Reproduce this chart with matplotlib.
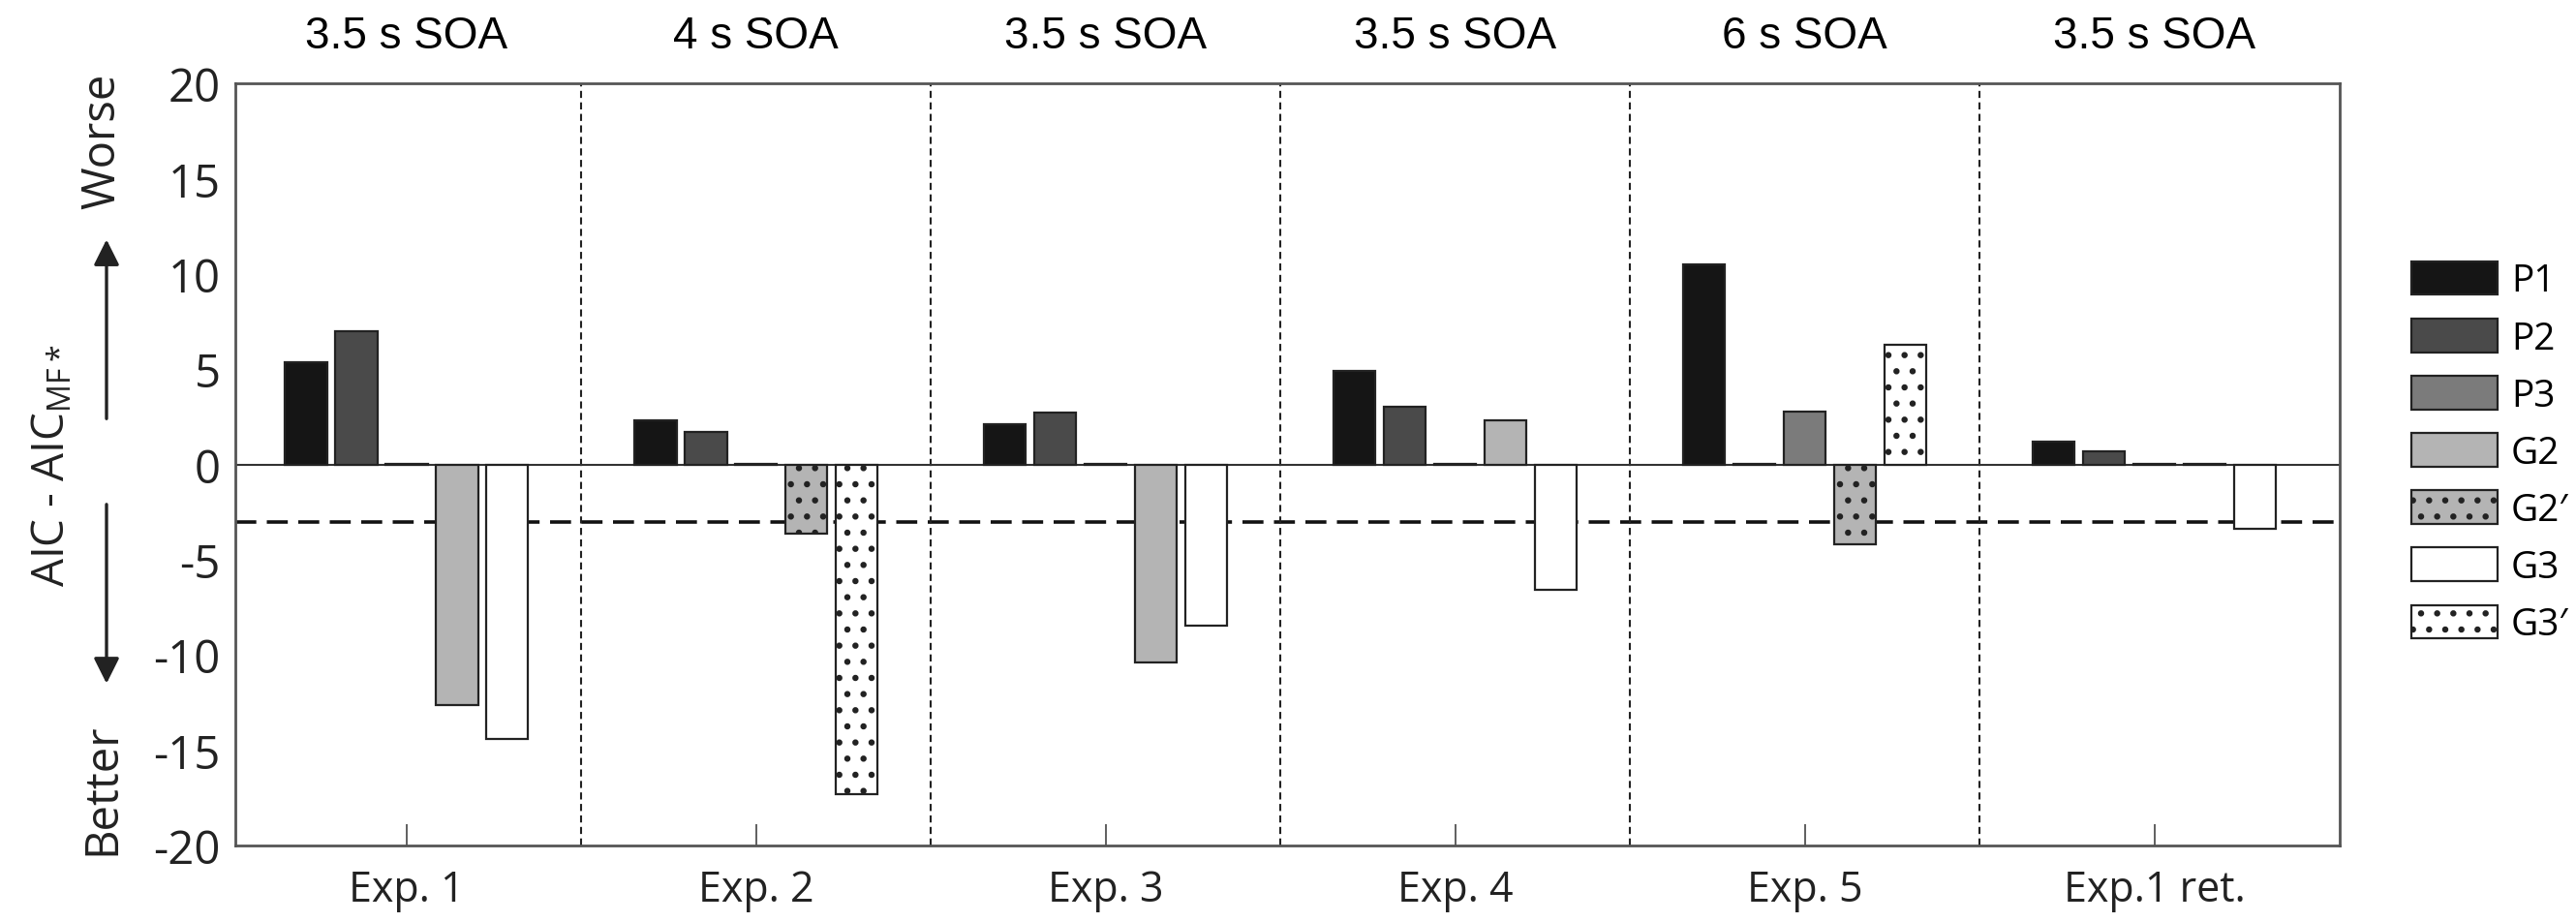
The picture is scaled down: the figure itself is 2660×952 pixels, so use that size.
import numpy as np
import matplotlib.pyplot as plt
from matplotlib import transforms
from matplotlib.patches import Patch

plt.rcParams['font.family'] = ['Open Sans', 'DejaVu Sans']
plt.rcParams['mathtext.fontset'] = 'custom'
plt.rcParams['mathtext.rm'] = 'Open Sans'
plt.rcParams['hatch.linewidth'] = 2.2
plt.rcParams['hatch.color'] = '#1a1a1a'

# experiments and their SOA
exps = ['Exp. 1', 'Exp. 2', 'Exp. 3', 'Exp. 4', 'Exp. 5', 'Exp.1 ret.']
soa = ['3.5 s SOA', '4 s SOA', '3.5 s SOA', '3.5 s SOA', '6 s SOA', '3.5 s SOA']

# AIC - AIC_MF* per model (nan = model not fitted for that experiment)
nan = np.nan
p1 = [5.38, 2.31, 2.13, 4.9, 10.5, 1.2]
p2 = [7.0, 1.72, 2.72, 3.03, 0.05, 0.68]
p3 = [0.05, 0.05, 0.05, 0.05, 2.76, 0.05]
g2 = [-12.65, nan, -10.4, 2.32, nan, 0.05]
g2p = [nan, -3.63, nan, nan, -4.18, nan]
g3 = [-14.4, nan, -8.46, -6.6, nan, -3.4]
g3p = [nan, -17.3, nan, nan, 6.3, nan]
threshold = -3

# label, values, slot in group, fill, hatch
models = [
    ('P1', p1, 0, '#151515', None),
    ('P2', p2, 1, '#4a4a4a', None),
    ('P3', p3, 2, '#7b7b7b', None),
    ('G2', g2, 3, '#b4b4b4', None),
    ('G2\u2032', g2p, 3, '#b4b4b4', '.'),
    ('G3', g3, 4, 'white', None),
    ('G3\u2032', g3p, 4, 'white', '.'),
]

W, H = 2660, 953
fig = plt.figure(figsize=(W / 100, H / 100), dpi=100)
ax = fig.add_axes([243 / W, 1 - 874 / H, (2416 - 243) / W, (874 - 87) / H])

x = np.arange(1, len(exps) + 1)
step = 0.144
width = 0.12
edge = '#222222'

for label, vals, slot, face, hatch in models:
    vals = np.array(vals, dtype=float)
    m = ~np.isnan(vals)
    ax.bar(x[m] + (slot - 2) * step, vals[m], width, color=face,
           edgecolor=edge, linewidth=1.6, hatch=hatch, zorder=3)

ax.axhline(0, color='#333333', lw=1.5, zorder=2)
ax.axhline(threshold, color='#111111', lw=2.6, dashes=(6, 3), zorder=1)
for xd in x[:-1] + 0.5:
    ax.axvline(xd, color='#222222', lw=1.5, dashes=(3.5, 2.2), zorder=1)

ax.set_xlim(0.51, 6.53)
ax.set_ylim(-20, 20)
ax.set_xticks(x)
ax.set_xticklabels(exps, fontsize=31, color='#222222')
ax.set_yticks(np.arange(-20, 21, 5))
ax.set_yticklabels([str(v) for v in range(-20, 21, 5)], fontsize=34, color='#222222')
ax.tick_params(axis='x', direction='in', length=16, width=1.2, color='#444444', pad=17)
ax.tick_params(axis='y', length=0, pad=11)
for s in ax.spines.values():
    s.set_color('#555555')
    s.set_linewidth(2)

# SOA headers above each experiment
top = transforms.blended_transform_factory(ax.transData, fig.transFigure)
for xi, t in zip(x, soa):
    ax.text(xi, 1 - 50 / H, t, transform=top, ha='center', va='baseline',
            fontsize=33, family=['Liberation Sans', 'DejaVu Sans'])

# y label with worse/better arrows
side = transforms.blended_transform_factory(fig.transFigure, ax.transData)
fig.text(54 / W, 0, 'AIC - AIC$_\\mathrm{MF*}$', transform=side, rotation=90,
         ha='center', va='center', fontsize=33, color='#222222')
fig.text(106 / W, 17.0, 'Worse', transform=side, rotation=90,
         ha='center', va='center', fontsize=34, color='#222222')
fig.text(106 / W, -17.0, 'Better', transform=side, rotation=90,
         ha='center', va='center', fontsize=34, color='#222222')
arrow = dict(arrowstyle='-|>', lw=2.4, color='#222222', mutation_scale=40, shrinkA=0, shrinkB=0)
ax.annotate('', xy=(110 / W, 11.8), xytext=(110 / W, 2.4), xycoords=side, textcoords=side,
            arrowprops=arrow, annotation_clip=False)
ax.annotate('', xy=(110 / W, -11.5), xytext=(110 / W, -2.1), xycoords=side, textcoords=side,
            arrowprops=arrow, annotation_clip=False)

handles = [Patch(facecolor=face, edgecolor=edge, linewidth=1.6, hatch=hatch)
           for _, _, _, face, hatch in models]
fig.legend(handles, [m[0] for m in models], loc='center left',
           bbox_to_anchor=(2490 / W, 1 - 468 / H), frameon=False, fontsize=28,
           handlelength=2.3, handleheight=1.0, handletextpad=0.35,
           labelspacing=0.5, borderpad=0, borderaxespad=0)

fig.savefig('out.png', dpi=100)
